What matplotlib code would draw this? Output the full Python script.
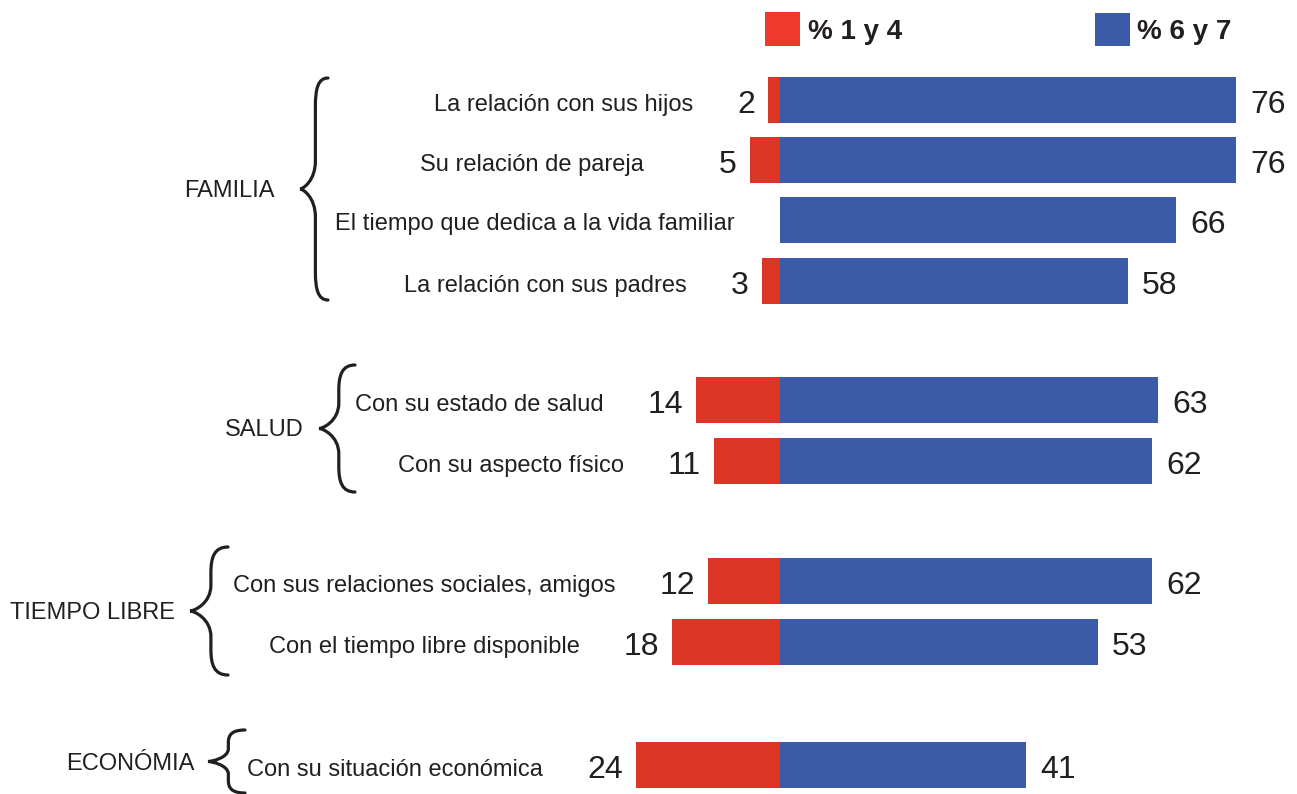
import numpy as np
import matplotlib
matplotlib.use("Agg")
import matplotlib.pyplot as plt
from matplotlib.path import Path
from matplotlib.patches import PathPatch, Rectangle

# data
groups = ["FAMILIA", "SALUD", "TIEMPO LIBRE", "ECONÓMIA"]
group_sizes = [4, 2, 2, 1]
items = [
    "La relación con sus hijos",
    "Su relación de pareja",
    "El tiempo que dedica a la vida familiar",
    "La relación con sus padres",
    "Con su estado de salud",
    "Con su aspecto físico",
    "Con sus relaciones sociales, amigos",
    "Con el tiempo libre disponible",
    "Con su situación económica",
]
pct_low = [2, 5, None, 3, 14, 11, 12, 18, 24]     # % 1 y 4
pct_high = [76, 76, 66, 58, 63, 62, 62, 53, 41]   # % 6 y 7

RED = "#DC3526"
BLUE = "#3B5AA7"
TXT = "#231F20"
plt.rcParams["font.family"] = ["Liberation Sans", "DejaVu Sans"]

W, H = 1297, 794
fig = plt.figure(figsize=(W / 100, H / 100), dpi=100)

# overlay axes in pixel units for braces / legend
deco = fig.add_axes([0, 0, 1, 1])
deco.set_xlim(0, W)
deco.set_ylim(H, 0)
deco.axis("off")

# bar axes: zero at x=780px, ~6 px per percentage point
ax = fig.add_axes([0, 0, 1, 1])
ax.set_xlim(-780 / 6.0, (W - 780) / 6.0)
ax.set_ylim(H, 0)
ax.axis("off")

# row layout (pixel rows)
row_y = [100, 160, 220, 281, 400, 461, 581, 642, 765]
bar_h = 46
label_gap = [44, 75, 44, 44, 44, 44, 44, 44, 44]

LBL = 17
NUM = 23

low = np.array([v if v is not None else 0 for v in pct_low], dtype=float)
ax.barh(row_y, -low, height=bar_h, color=RED, linewidth=0)
ax.barh(row_y, pct_high, height=bar_h, color=BLUE, linewidth=0)

for i, name in enumerate(items):
    y = row_y[i]
    ax.annotate(str(pct_high[i]), (pct_high[i], y), xytext=(14, -5),
                textcoords="offset pixels", ha="left", va="center",
                fontsize=NUM, color=TXT)
    if pct_low[i] is not None:
        t = ax.annotate(str(pct_low[i]), (-pct_low[i], y), xytext=(-13, -5),
                        textcoords="offset pixels", ha="right", va="center",
                        fontsize=NUM, color=TXT)
        ax.annotate(name, xy=(0, 0.5), xycoords=t, xytext=(-label_gap[i], 0),
                    textcoords="offset pixels", ha="right", va="center",
                    fontsize=LBL, color=TXT)
    else:
        ax.annotate(name, (0, y), xytext=(-45, -4), textcoords="offset pixels",
                    ha="right", va="center", fontsize=LBL, color=TXT)


def brace(x_tip, y_top, y_bot, w):
    ym = (y_top + y_bot) / 2.0
    xm = x_tip + w * 0.55
    xe = x_tip + w
    r = min(28, (y_bot - y_top) * 0.2)
    verts = [
        (xe, y_top),
        (xm + (xe - xm) * 0.2, y_top), (xm, y_top + r * 0.4), (xm, y_top + r),
        (xm, ym - r),
        (xm, ym - r * 0.3), (x_tip + (xm - x_tip) * 0.2, ym), (x_tip, ym),
        (x_tip + (xm - x_tip) * 0.2, ym), (xm, ym + r * 0.3), (xm, ym + r),
        (xm, y_bot - r),
        (xm, y_bot - r * 0.4), (xm + (xe - xm) * 0.2, y_bot), (xe, y_bot),
    ]
    codes = [Path.MOVETO] + [Path.CURVE4] * 3 + [Path.LINETO] + [Path.CURVE4] * 6 \
        + [Path.LINETO] + [Path.CURVE4] * 3
    deco.add_patch(PathPatch(Path(verts, codes), fill=False, lw=2.3,
                             edgecolor=TXT, capstyle="round"))


# braces and group names (pixel layout)
brace_specs = [(300, 78, 300, 28), (319, 365, 492, 36),
               (190, 547, 675, 38), (208, 730, 793, 37)]
name_gap = [25, 15, 15, 13]
for g, (xt, yt, yb, w), gap in zip(groups, brace_specs, name_gap):
    brace(xt, yt, yb, w)
    deco.text(xt - gap, (yt + yb) / 2 + 2, g, ha="right", va="center",
              fontsize=LBL, color=TXT)

# legend
deco.add_patch(Rectangle((765, 12), 35, 34, color="#EE3A2B", lw=0))
deco.text(808, 32, "% 1 y 4", ha="left", va="center", fontsize=20,
          fontweight="bold", color=TXT)
deco.add_patch(Rectangle((1095, 13), 35, 33, color=BLUE, lw=0))
deco.text(1137, 32, "% 6 y 7", ha="left", va="center", fontsize=20,
          fontweight="bold", color=TXT)

fig.savefig("out.png", dpi=100, facecolor="white")
